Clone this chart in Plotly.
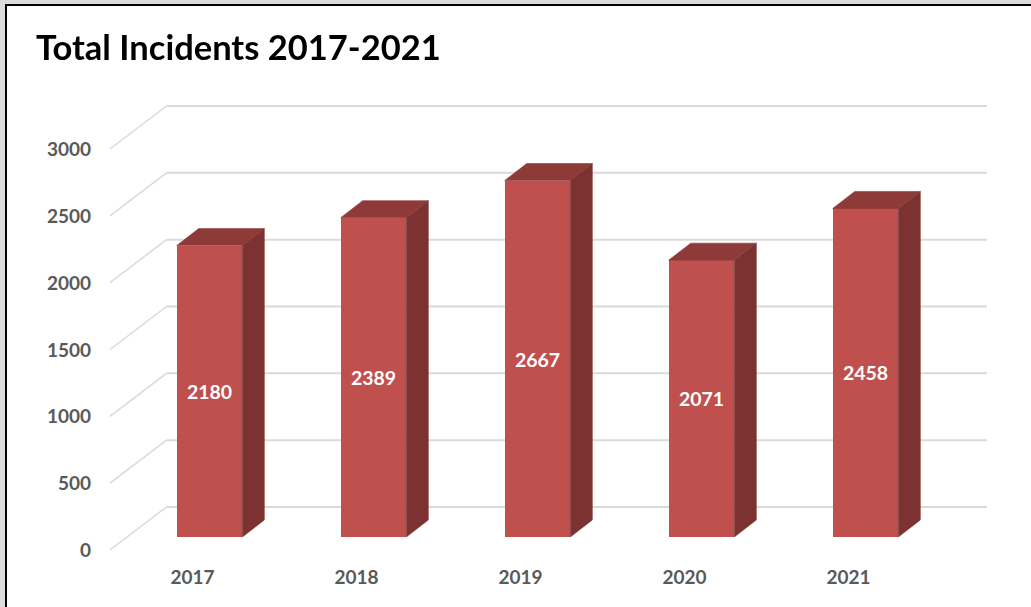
import plotly.graph_objects as go

YEARS = ["2017", "2018", "2019", "2020", "2021"]
INCIDENTS = [2180, 2389, 2667, 2071, 2458]
Y_TICKS = [0, 500, 1000, 1500, 2000, 2500, 3000]
TITLE = "Total Incidents 2017-2021"

W, H = 1031, 607
FRONT, SIDE, TOP = "#C0504D", "#7B3230", "#8E3A38"
GRID, LABEL = "#DADADA", "#595959"
FONT = "Lato"

# scale of the marks axes (pixels)
PX_STEP, PX_X0 = 164.0, 209.5      # pixels per category, centre of first bar
PX_UNIT, PX_Y0 = 0.13367, 537.0    # pixels per incident, baseline of bars
BAR_W = 65.6 / PX_STEP
DEPTH_X, DEPTH_Y = 22 / PX_STEP, 17 / PX_UNIT

xs = list(range(len(YEARS)))
half = BAR_W / 2

fig = go.Figure()
fig.add_trace(go.Bar(
    x=xs, y=INCIDENTS, width=BAR_W, marker=dict(color=FRONT, line=dict(width=0)),
    text=[str(v) for v in INCIDENTS], textposition="inside", insidetextanchor="middle",
    textangle=0, constraintext="none",
    textfont=dict(family=FONT, size=19.5, color="white", weight=700),
    xaxis="x", yaxis="y", showlegend=False, hoverinfo="x+y",
))
for x, v in zip(xs, INCIDENTS):
    r = x + half
    l = x - half
    fig.add_trace(go.Scatter(
        x=[r, r + DEPTH_X, r + DEPTH_X, r, r], y=[0, DEPTH_Y, v + DEPTH_Y, v, 0],
        mode="lines", fill="toself", fillcolor=SIDE, line=dict(width=0.6, color=SIDE),
        showlegend=False, hoverinfo="skip", xaxis="x", yaxis="y"))
    fig.add_trace(go.Scatter(
        x=[l, r, r + DEPTH_X, l + DEPTH_X, l], y=[v, v, v + DEPTH_Y, v + DEPTH_Y, v],
        mode="lines", fill="toself", fillcolor=TOP, line=dict(width=0.6, color=TOP),
        showlegend=False, hoverinfo="skip", xaxis="x", yaxis="y"))

# carrier for the tick-label axes
fig.add_trace(go.Scatter(x=xs, y=INCIDENTS, mode="markers", opacity=0, showlegend=False,
                         hoverinfo="skip", xaxis="x2", yaxis="y2"))


def px_x(p):
    return (p - PX_X0) / PX_STEP


def wall_y(v):
    return v + (PX_Y0 - 507) / PX_UNIT


def front_y(v):
    return v + (PX_Y0 - 550) / PX_UNIT


shapes = [
    dict(type="rect", xref="paper", yref="paper", x0=6 / W, x1=1.01, y0=-0.01, y1=1 - 5 / H,
         fillcolor="white", line=dict(color="black", width=2), layer="below"),
]
for v in Y_TICKS:
    shapes.append(dict(type="line", xref="x", yref="y", layer="below",
                       x0=px_x(166.5), x1=px_x(987), y0=wall_y(v), y1=wall_y(v),
                       line=dict(color=GRID, width=2)))
    shapes.append(dict(type="line", xref="x", yref="y", layer="below",
                       x0=px_x(110), x1=px_x(166.5), y0=front_y(v), y1=wall_y(v),
                       line=dict(color=GRID, width=1.5)))

# tick axes: domain in pixels
TX_L, TX_R, TY_T, TY_B = 110.0, 987.0, 100.0, 561.0
TX0 = 192.5     # pixel of first year label
TY0 = 550.5     # pixel of the 0 label

fig.update_layout(
    width=W, height=H, margin=dict(l=0, r=0, t=0, b=0, pad=0, autoexpand=False),
    paper_bgcolor="#DCDCDC", plot_bgcolor="rgba(0,0,0,0)",
    font=dict(family=FONT), bargap=0, showlegend=False,
    title=dict(text=TITLE, x=36 / W, xanchor="left", xref="paper", y=1 - 48 / H, yanchor="middle",
               yref="paper", font=dict(family=FONT, size=34.5, color="black", weight=700)),
    shapes=shapes,
    xaxis=dict(domain=[0, 1], range=[px_x(0), px_x(W)], visible=False, fixedrange=True, automargin=False),
    yaxis=dict(domain=[0, 1], range=[(PX_Y0 - H) / PX_UNIT, PX_Y0 / PX_UNIT], visible=False, fixedrange=True, automargin=False),
    xaxis2=dict(domain=[TX_L / W, TX_R / W], anchor="y2", automargin=False,
                range=[(TX_L - TX0) / PX_STEP, (TX_R - TX0) / PX_STEP],
                tickmode="array", tickvals=xs, ticktext=YEARS, ticks="", showgrid=False, zeroline=False,
                showline=False, ticklabelstandoff=3,
                tickfont=dict(family=FONT, size=19, color=LABEL, weight=700)),
    yaxis2=dict(domain=[1 - TY_B / H, 1 - TY_T / H], anchor="x2", automargin=False,
                range=[(TY0 - TY_B) / PX_UNIT, (TY0 - TY_T) / PX_UNIT],
                tickmode="array", tickvals=Y_TICKS, ticktext=[str(v) for v in Y_TICKS], ticks="",
                showgrid=False, zeroline=False, showline=False, ticklabelstandoff=18,
                tickfont=dict(family=FONT, size=19, color=LABEL, weight=700)),
)

fig.write_html("out.html", config={"displayModeBar": False},
               post_script="document.body.style.margin='0';document.documentElement.style.overflow='hidden';")
